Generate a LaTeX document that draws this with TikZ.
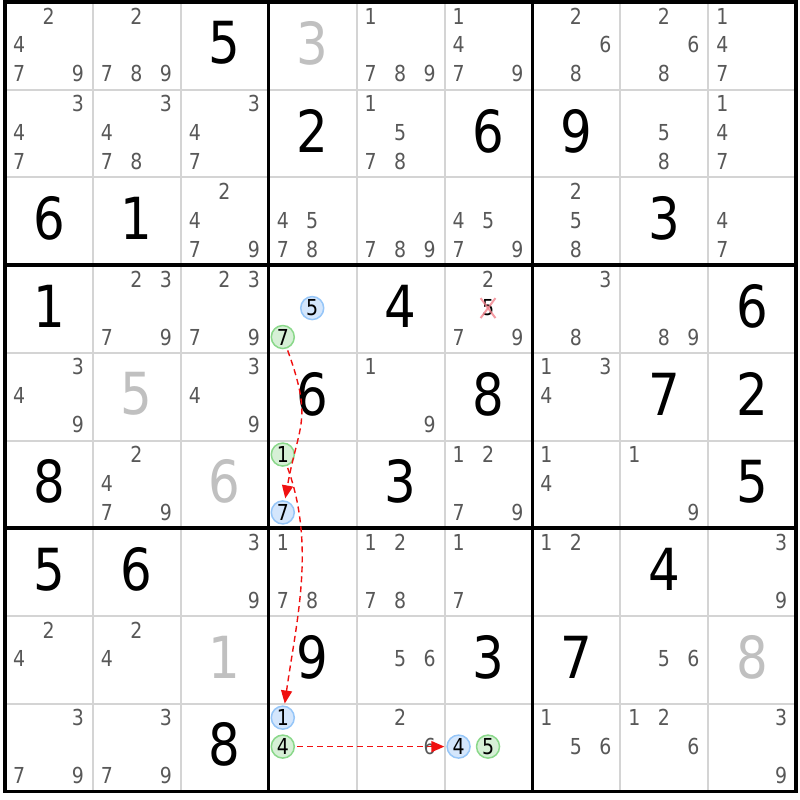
\documentclass[tikz,border=0pt]{standalone}
\usepackage{fontspec}
\usepackage{tikz}
\usetikzlibrary{arrows.meta}
\newfontfamily\sudokufont{DejaVu Sans}[FakeStretch=0.86]
\definecolor{candgray}{RGB}{88,88,88}
\definecolor{solvedgray}{RGB}{192,192,192}
\definecolor{gridgray}{RGB}{212,212,212}
\definecolor{onfill}{RGB}{212,230,252}
\definecolor{ondraw}{RGB}{150,198,248}
\definecolor{offfill}{RGB}{214,240,214}
\definecolor{offdraw}{RGB}{138,216,138}
\definecolor{linkred}{RGB}{240,16,16}
\definecolor{crossred}{RGB}{242,130,140}
\tikzset{every picture/.style={>={Triangle[length=13pt,width=11pt]}},
  big/.style={font=\sudokufont\fontsize{58}{60}\selectfont,inner sep=0pt},
  given/.style={big,text=black},
  solved/.style={big,text=solvedgray},
  cand/.style={font=\sudokufont\fontsize{22}{24}\selectfont,inner sep=0pt,text=candgray},
  oncand/.style={cand,text=black,circle,draw=ondraw,fill=onfill,line width=1.5pt,minimum size=23pt},
  offcand/.style={oncand,draw=offdraw,fill=offfill},
  link/.style={->,draw=linkred,line width=1.4pt,dash pattern=on 6pt off 4pt,shorten <=2pt,shorten >=2pt}}

\begin{document}
\begin{tikzpicture}[x=87.9pt,y=-87.7pt]
  \useasboundingbox[fill=white] (-0.057,-0.0228) rectangle (9.044,9.099);
  \foreach \i in {1,...,8} {
    \draw[gridgray,line width=2pt] (\i,0) -- (\i,9);
    \draw[gridgray,line width=2pt] (0,\i) -- (9,\i);
  }
  \foreach \i in {0,3,6,9} {
    \draw[line width=3.5pt,line cap=rect] (\i,0) -- (\i,9);
    \draw[line width=3.5pt,line cap=rect] (0,\i) -- (9,\i);
  }
  \foreach \r/\c/\d in {0/2/5,1/3/2,1/5/6,1/6/9,2/0/6,2/1/1,2/7/3,3/0/1,3/4/4,3/8/6,
      4/3/6,4/5/8,4/7/7,4/8/2,5/0/8,5/4/3,5/8/5,6/0/5,6/1/6,6/7/4,7/3/9,7/5/3,7/6/7,8/2/8}
    \node[given] (g\r\c) at (\c+0.5,\r+0.47) {\d};
  \foreach \r/\c/\d in {0/3/3,4/1/5,5/2/6,7/2/1,7/8/8}
    \node[solved] (g\r\c) at (\c+0.5,\r+0.47) {\d};
  \foreach \r/\c/\ds in {0/0/{2,4,7,9},0/1/{2,7,8,9},0/4/{1,7,8,9},0/5/{1,4,7,9},0/6/{2,6,8},0/7/{2,6,8},0/8/{1,4,7},
      1/0/{3,4,7},1/1/{3,4,7,8},1/2/{3,4,7},1/4/{1,5,7,8},1/7/{5,8},1/8/{1,4,7},
      2/2/{2,4,7,9},2/3/{4,5,7,8},2/4/{7,8,9},2/5/{4,5,7,9},2/6/{2,5,8},2/8/{4,7},
      3/1/{2,3,7,9},3/2/{2,3,7,9},3/5/{2,7,9},3/6/{3,8},3/7/{8,9},
      4/0/{3,4,9},4/2/{3,4,9},4/4/{1,9},4/6/{1,3,4},
      5/1/{2,4,7,9},5/5/{1,2,7,9},5/6/{1,4},5/7/{1,9},
      6/2/{3,9},6/3/{1,7,8},6/4/{1,2,7,8},6/5/{1,7},6/6/{1,2},6/8/{3,9},
      7/0/{2,4},7/1/{2,4},7/4/{5,6},7/7/{5,6},
      8/0/{3,7,9},8/1/{3,7,9},8/4/{2,6},8/6/{1,5,6},8/7/{1,2,6},8/8/{3,9}} {
    \foreach \d in \ds {
      \pgfmathtruncatemacro{\sc}{mod(\d-1,3)}
      \pgfmathtruncatemacro{\sr}{(\d-1)/3}
      \node[cand] (n\r\c\d) at (\c+0.16+0.335*\sc,\r+0.16+0.33*\sr) {\d};
    }
  }
  \node[oncand] (n335) at (3.495,3.49) {5};
  \node[offcand] (n337) at (3.16,3.82) {7};
  \node[offcand] (n531) at (3.16,5.16) {1};
  \node[oncand] (n537) at (3.16,5.82) {7};
  \node[oncand] (n831) at (3.16,8.16) {1};
  \node[offcand] (n834) at (3.16,8.49) {4};
  \node[oncand] (n854) at (5.16,8.49) {4};
  \node[offcand] (n855) at (5.495,8.49) {5};
  \node[cand,text=black] (n355) at (5.495,3.49) {5};
  \draw[crossred,line width=2pt,opacity=0.8,shorten <=-2pt,shorten >=-2pt] (n355.north west) -- (n355.south east);
  \draw[crossred,line width=2pt,opacity=0.8,shorten <=-2pt,shorten >=-2pt] (n355.north east) -- (n355.south west);
  \draw[link] (n337) to[out=-70,in=80,looseness=1.3] (n537);
  \draw[link] (n531) to[out=-70,in=82,looseness=0.9] (n831);
  \draw[link] (n834) -- (n854);
\end{tikzpicture}
\end{document}
